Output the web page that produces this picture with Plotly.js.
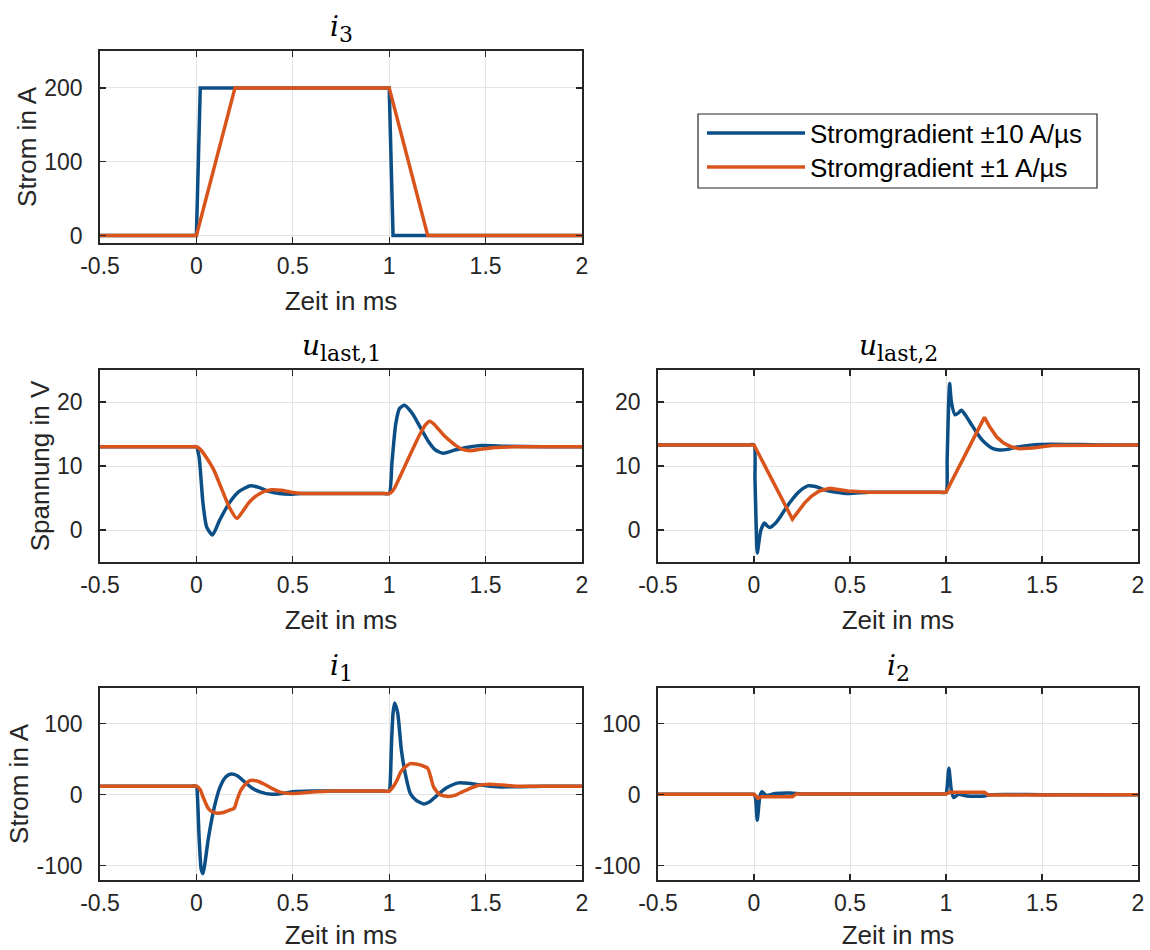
<!DOCTYPE html>
<html>
<head>
<meta charset="utf-8">
<script src="https://cdn.plot.ly/plotly-3.0.1.min.js"></script>
<style>
  html, body { margin: 0; padding: 0; background: #ffffff; }
  #chart { width: 1150px; height: 950px; }
</style>
</head>
<body>
<div id="chart"></div>
<script>
// ---------- data (time in ms) ----------
const seriesNames = ["Stromgradient \u00b110 A/\u00b5s", "Stromgradient \u00b11 A/\u00b5s"];

// i3
const i3_fast_t = [-0.5, 0, 0.02, 1.0, 1.02, 2.0];
const i3_fast_v = [0, 0, 200, 200, 0, 0];
const i3_slow_t = [-0.5, 0, 0.2, 1.0, 1.2, 2.0];
const i3_slow_v = [0, 0, 200, 200, 0, 0];

// u_last,1
const u1_fast_t = [-0.5, -0.03, 0, 0.014, 0.034, 0.053, 0.083, 0.12, 0.17, 0.22, 0.28, 0.32, 0.37, 0.43, 0.49, 0.55, 0.65, 0.8, 0.97, 1.0, 1.014, 1.034, 1.054, 1.08, 1.12, 1.16, 1.2, 1.24, 1.28, 1.34, 1.4, 1.48, 1.6, 1.8, 2.0];
const u1_fast_v = [13.0, 13.0, 13.0, 11.4, 4.2, 0.5, -0.8, 1.5, 4.2, 6.0, 6.9, 6.7, 6.1, 5.7, 5.6, 5.7, 5.7, 5.7, 5.7, 5.7, 10.4, 16.6, 19.0, 19.5, 18.2, 16.1, 14.0, 12.5, 12.0, 12.5, 12.9, 13.2, 13.1, 13.0, 13.0];
const u1_slow_t = [-0.5, -0.03, 0, 0.02, 0.05, 0.09, 0.13, 0.17, 0.21, 0.24, 0.27, 0.30, 0.33, 0.36, 0.39, 0.44, 0.49, 0.55, 0.65, 0.8, 0.97, 1.0, 1.02, 1.04, 1.08, 1.12, 1.16, 1.19, 1.21, 1.23, 1.26, 1.29, 1.32, 1.35, 1.38, 1.42, 1.47, 1.55, 1.65, 1.8, 2.0];
const u1_slow_v = [13.0, 13.0, 13.0, 12.6, 11.4, 9.4, 6.5, 3.6, 1.8, 2.9, 4.2, 5.1, 5.7, 6.1, 6.3, 6.2, 5.9, 5.7, 5.7, 5.7, 5.7, 5.7, 6.2, 7.3, 9.9, 12.5, 15.0, 16.5, 17.0, 16.6, 15.6, 14.6, 13.8, 13.1, 12.6, 12.4, 12.6, 12.9, 13.0, 13.0, 13.0];

// u_last,2
const u2_fast_t = [-0.5, -0.03, 0, 0.005, 0.012, 0.017, 0.025, 0.036, 0.055, 0.07, 0.083, 0.11, 0.14, 0.17, 0.2, 0.225, 0.25, 0.28, 0.32, 0.376, 0.43, 0.49, 0.6, 0.8, 0.97, 1.0, 1.006, 1.012, 1.019, 1.028, 1.047, 1.065, 1.08, 1.1, 1.13, 1.16, 1.19, 1.22, 1.245, 1.28, 1.32, 1.36, 1.45, 1.55, 1.8, 2.0];
const u2_fast_v = [13.3, 13.3, 13.3, 8.0, 0.0, -3.6, -2.0, 0.0, 1.1, 0.6, 0.4, 1.0, 2.2, 3.6, 4.8, 5.7, 6.4, 6.9, 6.8, 6.2, 5.9, 5.7, 5.9, 5.9, 5.9, 5.9, 11.0, 18.0, 22.9, 20.0, 18.0, 18.3, 18.7, 18.0, 16.6, 15.2, 14.0, 13.2, 12.7, 12.5, 12.6, 12.9, 13.3, 13.4, 13.3, 13.3];
const u2_slow_t = [-0.5, 0, 0.2, 0.23, 0.263, 0.3, 0.34, 0.395, 0.44, 0.49, 0.6, 1.0, 1.2, 1.23, 1.265, 1.3, 1.34, 1.38, 1.45, 1.55, 2.0];
const u2_slow_v = [13.3, 13.3, 1.7, 2.9, 4.2, 5.3, 6.1, 6.5, 6.3, 6.1, 5.9, 5.9, 17.6, 16.0, 14.5, 13.6, 13.0, 12.7, 12.8, 13.2, 13.3];

// i1
const i1_fast_t = [-0.5, -0.03, 0, 0.005, 0.014, 0.025, 0.034, 0.045, 0.063, 0.093, 0.123, 0.152, 0.18, 0.21, 0.25, 0.29, 0.33, 0.39, 0.45, 0.5, 0.6, 0.8, 0.97, 1.0, 1.005, 1.012, 1.02, 1.028, 1.044, 1.063, 1.083, 1.11, 1.14, 1.18, 1.21, 1.24, 1.27, 1.30, 1.36, 1.41, 1.46, 1.56, 1.8, 2.0];
const i1_fast_v = [12, 12, 12, 0, -60, -105, -111, -95, -60, -17.5, 11, 25, 29, 27, 18, 9, 4, 0.5, 2, 4, 5, 5, 5, 5, 15, 72, 115, 129, 115, 63, 30, 1.4, -8, -13, -10, -3, 4, 10, 16.6, 16, 14, 11, 12, 12];
const i1_slow_t = [-0.5, -0.03, 0, 0.02, 0.034, 0.063, 0.09, 0.11, 0.14, 0.17, 0.196, 0.21, 0.23, 0.255, 0.28, 0.31, 0.35, 0.39, 0.43, 0.49, 0.57, 0.7, 0.85, 0.97, 1.0, 1.02, 1.04, 1.06, 1.083, 1.11, 1.14, 1.17, 1.2, 1.215, 1.23, 1.26, 1.3, 1.34, 1.38, 1.42, 1.46, 1.52, 1.59, 1.66, 1.8, 2.0];
const i1_slow_v = [12, 12, 12, 7, -3, -20, -25, -26, -25, -22, -19, -8, 6, 15, 20, 19.5, 15, 9, 4, 1.5, 3, 5, 5, 5, 5, 11, 20, 32, 39, 43.6, 43, 41, 37, 25, 11, 0.5, -2.4, -1, 4, 9, 13, 14.7, 13.5, 12, 12, 12];

// i2
const i2_fast_t = [-0.5, -0.03, 0, 0.008, 0.017, 0.025, 0.03, 0.042, 0.064, 0.11, 0.19, 0.25, 0.6, 0.97, 1.0, 1.004, 1.015, 1.028, 1.04, 1.066, 1.11, 1.2, 1.23, 1.5, 2.0];
const i2_fast_v = [0.5, 0.5, 0.5, -5, -36, -15, -3, 4, -1, 1.5, 2.4, 1, 1, 1, 1, 5, 37, 6, -4, 0.5, -2, -2, 0, 0, 0];
const i2_slow_t = [-0.5, 0, 0.02, 0.04, 0.2, 0.22, 1.0, 1.02, 1.2, 1.22, 2.0];
const i2_slow_v = [0.5, 0.5, -5, -3, -3, 1, 1, 3.3, 3.3, -0.5, 0];

// ticks and titles
const xTickVals = [-0.5, 0, 0.5, 1, 1.5, 2];
const xTickText = ["-0.5", "0", "0.5", "1", "1.5", "2"];
const yTickVals_i3 = [0, 100, 200];
const yTickText_i3 = ["0", "100", "200"];
const yTickVals_u = [0, 10, 20];
const yTickText_u = ["0", "10", "20"];
const yTickVals_i = [-100, 0, 100];
const yTickText_i = ["-100", "0", "100"];
const xTitle = "Zeit in ms";
const yTitleStrom = "Strom in A";
const yTitleSpannung = "Spannung in V";
const subStyle = '<span style="font-size:22px">';
const panelTitles = [
  "<i>i</i><sub>" + subStyle + "3</span></sub>",
  "<i>u</i><sub>" + subStyle + "last,1</span></sub>",
  "<i>u</i><sub>" + subStyle + "last,2</span></sub>",
  "<i>i</i><sub>" + subStyle + "1</span></sub>",
  "<i>i</i><sub>" + subStyle + "2</span></sub>"
];

// ---------- styling ----------
const W = 1150, H = 950;
const colFast = "#0c4f86";
const colSlow = "#d9541b";
const ink = "#262626";
const sansFont = "Liberation Sans, Arial, sans-serif";

const colX = [[100, 582], [658, 1138]];
const rowY = [[51, 243], [370, 562], [688, 880]];
const xd = c => [colX[c][0] / W, colX[c][1] / W];
const yd = r => [1 - rowY[r][1] / H, 1 - rowY[r][0] / H];

function mkTrace(t, v, name, color, xa, ya, leg, smooth) {
  const ln = { color: color, width: 3.5 };
  if (smooth) { ln.shape = "spline"; ln.smoothing = 0.6; }
  const tr = {
    x: t, y: v, type: "scatter", mode: "lines", name: name,
    line: ln, xaxis: xa, yaxis: ya, showlegend: !!leg, hoverinfo: "skip"
  };
  if (leg) tr.legend = leg;
  return tr;
}

const data = [
  mkTrace(i3_fast_t, i3_fast_v, seriesNames[0], colFast, "x", "y", "legend", false),
  mkTrace(i3_slow_t, i3_slow_v, seriesNames[1], colSlow, "x", "y", "legend2", false),
  mkTrace(u1_fast_t, u1_fast_v, seriesNames[0], colFast, "x2", "y2", null, true),
  mkTrace(u1_slow_t, u1_slow_v, seriesNames[1], colSlow, "x2", "y2", null, true),
  mkTrace(u2_fast_t, u2_fast_v, seriesNames[0], colFast, "x3", "y3", null, true),
  mkTrace(u2_slow_t, u2_slow_v, seriesNames[1], colSlow, "x3", "y3", null, false),
  mkTrace(i1_fast_t, i1_fast_v, seriesNames[0], colFast, "x4", "y4", null, true),
  mkTrace(i1_slow_t, i1_slow_v, seriesNames[1], colSlow, "x4", "y4", null, true),
  mkTrace(i2_fast_t, i2_fast_v, seriesNames[0], colFast, "x5", "y5", null, true),
  mkTrace(i2_slow_t, i2_slow_v, seriesNames[1], colSlow, "x5", "y5", null, false)
];

function baseAxis() {
  return {
    showline: true, mirror: "allticks", linecolor: ink, linewidth: 1.8,
    ticks: "inside", ticklen: 6, tickwidth: 1.3, tickcolor: ink,
    showgrid: true, gridcolor: "#e4e4e4", gridwidth: 1,
    zeroline: false, fixedrange: true,
    tickfont: { family: sansFont, size: 23, color: ink }
  };
}
function xAxis(c, r, anchor) {
  return Object.assign(baseAxis(), {
    domain: xd(c), anchor: anchor, range: [-0.5, 2],
    tickmode: "array", tickvals: xTickVals, ticktext: xTickText,
    ticklabelstandoff: 2,
    title: { text: xTitle, font: { family: sansFont, size: 26, color: ink }, standoff: 13 }
  });
}
function yAxis(r, anchor, range, tv, tt, title) {
  const a = Object.assign(baseAxis(), {
    domain: yd(r), anchor: anchor, range: range,
    tickmode: "array", tickvals: tv, ticktext: tt,
    ticklabelstandoff: 11
  });
  if (title) a.title = { text: title, font: { family: sansFont, size: 26, color: ink }, standoff: 0 };
  return a;
}

const titleFont = { family: "DejaVu Serif, Liberation Serif, serif", size: 28, color: "#000000" };
const titleY = [28, 348, 667];
const titlePos = [[0, 0], [0, 1], [1, 1], [0, 2], [1, 2]];
const annotations = panelTitles.map((txt, k) => {
  const c = titlePos[k][0], r = titlePos[k][1];
  return {
    text: txt, xref: "paper", yref: "paper",
    x: (colX[c][0] + colX[c][1]) / 2 / W, y: 1 - titleY[r] / H,
    xanchor: "center", yanchor: "middle", showarrow: false, font: titleFont
  };
});

const legBox = { x0: 698, x1: 1097, y0: 114, y1: 188 };
const legRows = [133, 167];
function legendCfg(rowY) {
  return {
    x: (legBox.x0 + 4) / W, y: 1 - rowY / H, xanchor: "left", yanchor: "middle",
    bgcolor: "rgba(0,0,0,0)", borderwidth: 0,
    font: { family: sansFont, size: 26, color: "#000000" },
    itemwidth: 98
  };
}

const layout = {
  width: W, height: H,
  margin: { l: 0, r: 0, t: 0, b: 0 },
  paper_bgcolor: "#ffffff", plot_bgcolor: "#ffffff",
  showlegend: true,
  legend: legendCfg(legRows[0]),
  legend2: legendCfg(legRows[1]),
  shapes: [{
    type: "rect", xref: "paper", yref: "paper", layer: "above",
    x0: legBox.x0 / W, x1: legBox.x1 / W, y0: 1 - legBox.y1 / H, y1: 1 - legBox.y0 / H,
    line: { color: ink, width: 1.2 }, fillcolor: "#ffffff"
  }],
  xaxis: xAxis(0, 0, "y"),
  yaxis: yAxis(0, "x", [-10, 250], yTickVals_i3, yTickText_i3, yTitleStrom),
  xaxis2: xAxis(0, 1, "y2"),
  yaxis2: yAxis(1, "x2", [-5, 25], yTickVals_u, yTickText_u, yTitleSpannung),
  xaxis3: xAxis(1, 1, "y3"),
  yaxis3: yAxis(1, "x3", [-5, 25], yTickVals_u, yTickText_u, null),
  xaxis4: xAxis(0, 2, "y4"),
  yaxis4: yAxis(2, "x4", [-120, 150], yTickVals_i, yTickText_i, yTitleStrom),
  xaxis5: xAxis(1, 2, "y5"),
  yaxis5: yAxis(2, "x5", [-120, 150], yTickVals_i, yTickText_i, null),
  annotations: annotations
};

Plotly.newPlot("chart", data, layout, { displayModeBar: false, staticPlot: true });
</script>
</body>
</html>
